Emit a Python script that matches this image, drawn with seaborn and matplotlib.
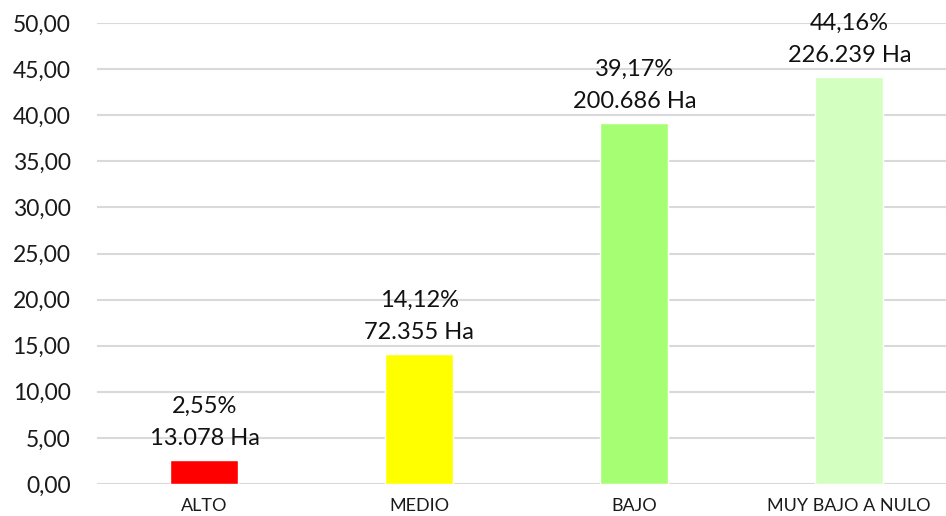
import matplotlib
matplotlib.use("Agg")
import matplotlib.pyplot as plt
import seaborn as sns
import pandas as pd

categories = ["ALTO", "MEDIO", "BAJO", "MUY BAJO A NULO"]
percentages = [2.55, 14.12, 39.17, 44.16]
hectares = ["13.078", "72.355", "200.686", "226.239"]
bar_colors = ["#FF0000", "#FFFF00", "#A6FF73", "#D3FFC0"]

df = pd.DataFrame({"categoria": categories, "porcentaje": percentages})

sns.set_style("white")
plt.rcParams["font.family"] = ["Lato", "DejaVu Sans"]

fig = plt.figure(figsize=(9.46, 5.16), dpi=100)
ax = fig.add_axes([0.1025, 0.062, 0.8975, 0.8934])

sns.barplot(data=df, x="categoria", y="porcentaje", hue="categoria",
            palette=bar_colors, legend=False, width=0.316, ax=ax,
            saturation=1, zorder=3)

ax.set_ylim(0, 50)
ax.set_xlim(-0.5, 3.45)
yticks = list(range(0, 55, 5))
ax.set_yticks(yticks)
ax.set_yticklabels([f"{v:.2f}".replace(".", ",") for v in yticks], fontsize=16.5, color="#1a1a1a")
ax.tick_params(axis="y", length=0, pad=19)
ax.tick_params(axis="x", length=0, pad=10, labelsize=13, labelcolor="#1a1a1a")
ax.grid(axis="y", color="#D9D9D9", linewidth=1.5, zorder=0)
ax.set_axisbelow(True)
for s in ax.spines.values():
    s.set_visible(False)
ax.set_xlabel("")
ax.set_ylabel("")

for i, (p, h) in enumerate(zip(percentages, hectares)):
    label = f"{p:.2f}".replace(".", ",") + "%\n" + h + " Ha"
    ax.annotate(label, xy=(i, p), xytext=(0, 8), textcoords="offset points",
                ha="center", va="bottom", fontsize=17, color="#111111",
                linespacing=1.65, zorder=4)

fig.savefig("out.png", dpi=100)
